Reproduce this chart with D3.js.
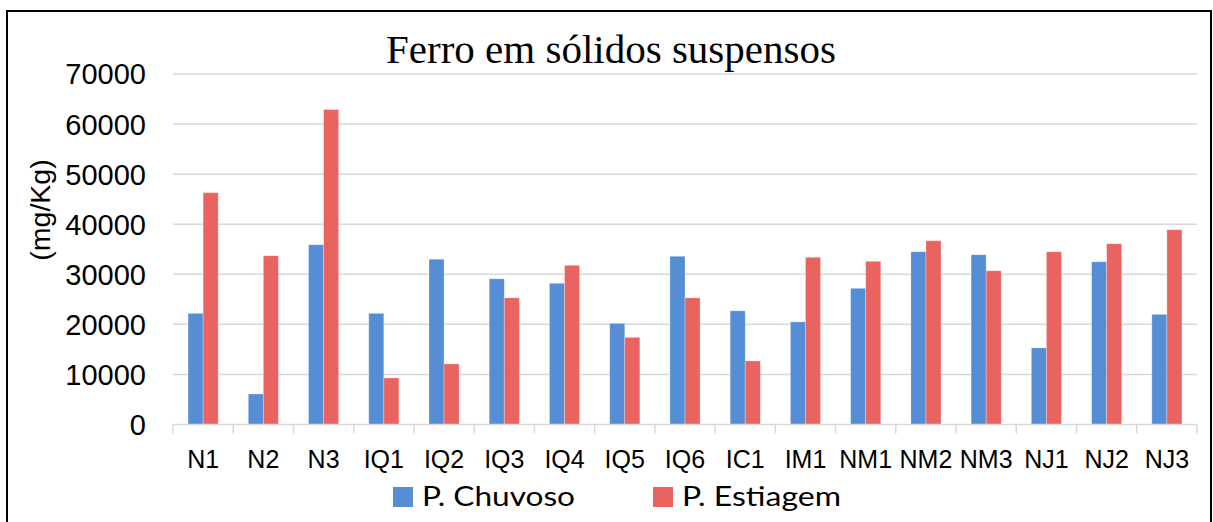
<!DOCTYPE html>
<html lang="pt">
<head>
<meta charset="UTF-8">
<title>Ferro em sólidos suspensos</title>
<script src="https://cdn.jsdelivr.net/npm/d3@7"></script>
<style>
  body { margin: 0; background: #fff; }
</style>
</head>
<body>
<div id="chart"></div>
<script>
var categories = ["N1","N2","N3","IQ1","IQ2","IQ3","IQ4","IQ5","IQ6","IC1","IM1","NM1","NM2","NM3","NJ1","NJ2","NJ3"];
var seriesNames = ["P. Chuvoso", "P. Estiagem"];
var chuvoso  = [22200, 6100, 35900, 22200, 33000, 29100, 28200, 20200, 33600, 22700, 20500, 27200, 34500, 33900, 15300, 32500, 22000];
var estiagem = [46300, 33700, 62900, 9300, 12100, 25300, 31800, 17400, 25300, 12700, 33400, 32600, 36700, 30700, 34500, 36100, 38900];
var yTicks = [0, 10000, 20000, 30000, 40000, 50000, 60000, 70000];
var colors = ["#558ED5", "#E96461"];

var W = 1213, H = 522;
var margin = {top: 74, right: 16, bottom: 98, left: 173};
var width = 1197 - margin.left,
    height = 424.5 - margin.top;

var svg = d3.select("#chart").append("svg")
    .attr("width", W)
    .attr("height", H);

// outer frame
svg.append("rect")
    .attr("x", 7).attr("y", 11)
    .attr("width", 1204).attr("height", 530)
    .attr("fill", "none")
    .attr("stroke", "#000")
    .attr("stroke-width", 2);

var g = svg.append("g")
    .attr("transform", "translate(" + margin.left + "," + margin.top + ")");

var x = d3.scaleBand()
    .domain(categories)
    .range([0, width]);

var x1 = d3.scaleBand()
    .domain(seriesNames)
    .range([x.bandwidth() * 0.25, x.bandwidth() * 0.75]);

var y = d3.scaleLinear()
    .domain([0, 70000])
    .range([height, 0]);

// gridlines
g.selectAll(".grid")
    .data(yTicks.slice(1))
    .enter().append("line")
    .attr("x1", 0).attr("x2", width)
    .attr("y1", function(d) { return y(d); })
    .attr("y2", function(d) { return y(d); })
    .attr("stroke", "#d9d9d9")
    .attr("stroke-width", 1.5);

// y tick labels
g.selectAll(".ylab")
    .data(yTicks)
    .enter().append("text")
    .attr("x", -27)
    .attr("y", function(d) { return y(d); })
    .attr("dy", "0.36em")
    .attr("text-anchor", "end")
    .style("font-family", "'Liberation Sans', Arial, sans-serif")
    .style("font-size", "29px")
    .attr("fill", "#000")
    .text(function(d) { return d; });

// bars
var data = categories.map(function(c, i) {
    return {cat: c, vals: [chuvoso[i], estiagem[i]]};
});

var groups = g.selectAll(".cat")
    .data(data)
    .enter().append("g")
    .attr("transform", function(d) { return "translate(" + x(d.cat) + ",0)"; });

groups.selectAll("rect")
    .data(function(d) { return d.vals.map(function(v, j) { return {s: seriesNames[j], v: v, j: j}; }); })
    .enter().append("rect")
    .attr("x", function(d) { return x1(d.s); })
    .attr("y", function(d) { return y(d.v); })
    .attr("width", x1.bandwidth())
    .attr("height", function(d) { return height - y(d.v); })
    .attr("fill", function(d) { return colors[d.j]; })
    .attr("stroke", "#fff")
    .attr("stroke-opacity", 0.35)
    .attr("stroke-width", 0.8);

// x axis
var xAxis = g.append("g")
    .attr("transform", "translate(0," + height + ")");

xAxis.append("line")
    .attr("x1", 0).attr("x2", width)
    .attr("stroke", "#d9d9d9")
    .attr("stroke-width", 1.5);

var tickPos = categories.map(function(c) { return x(c); }).concat([width]);
xAxis.selectAll(".tick")
    .data(tickPos)
    .enter().append("line")
    .attr("x1", function(d) { return d; })
    .attr("x2", function(d) { return d; })
    .attr("y1", 0).attr("y2", 9)
    .attr("stroke", "#d9d9d9")
    .attr("stroke-width", 1.5);

xAxis.selectAll(".xlab")
    .data(categories)
    .enter().append("text")
    .attr("x", function(d) { return x(d) + x.bandwidth() / 2; })
    .attr("y", 43.5)
    .attr("text-anchor", "middle")
    .style("font-family", "'Liberation Sans', Arial, sans-serif")
    .style("font-size", "25px")
    .attr("fill", "#000")
    .text(function(d) { return d; });

// y axis title
svg.append("text")
    .attr("transform", "translate(50,210) rotate(-90)")
    .attr("text-anchor", "middle")
    .style("font-family", "'Liberation Sans', Arial, sans-serif")
    .style("font-size", "28.5px")
    .attr("fill", "#000")
    .text("(mg/Kg)");

// chart title
svg.append("text")
    .attr("x", 611)
    .attr("y", 63)
    .attr("text-anchor", "middle")
    .style("font-family", "'Liberation Serif', 'Times New Roman', serif")
    .style("font-size", "41px")
    .attr("fill", "#000")
    .text("Ferro em sólidos suspensos");

// legend
var legendX = [393, 653];
var legendLen = [153, 159];
var legend = svg.selectAll(".legend")
    .data(seriesNames)
    .enter().append("g")
    .attr("transform", function(d, i) { return "translate(" + legendX[i] + ",487)"; });

legend.append("rect")
    .attr("width", 20).attr("height", 20)
    .attr("fill", function(d, i) { return colors[i]; });

legend.append("text")
    .attr("x", 29)
    .attr("y", 19)
    .attr("textLength", function(d, i) { return legendLen[i]; })
    .attr("lengthAdjust", "spacingAndGlyphs")
    .style("font-family", "Lato, 'Open Sans', sans-serif")
    .style("font-size", "27px")
    .attr("fill", "#000")
    .text(function(d) { return d; });
</script>
</body>
</html>
